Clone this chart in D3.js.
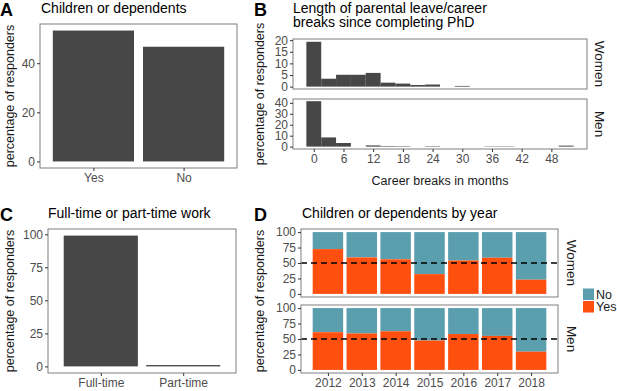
<!DOCTYPE html>
<html>
<head>
<meta charset="utf-8">
<script src="https://cdn.jsdelivr.net/npm/d3@7"></script>
<style>
  body { margin: 0; background: #fff; }
  svg { font-family: "Liberation Sans", Arial, sans-serif; }
  .tick text { fill: #4d4d4d; font-size: 12px; }
  .tick line { stroke: #333; }
  .axis-title { fill: #1a1a1a; font-size: 12.5px; }
  .panel-title { fill: #000; font-size: 14px; }
  .panel-letter { fill: #000; font-size: 18px; font-weight: bold; }
  .strip { fill: #1a1a1a; font-size: 13.5px; }
</style>
</head>
<body>
<div id="chart"></div>
<script>
// Data
var childCats = ["Yes", "No"];
var childPct = [53.3, 46.7];

var workCats = ["Full-time", "Part-time"];
var workPct = [99.0, 1.0];

var breakMonths = [0, 3, 6, 9, 12, 15, 18, 21, 24, 27, 30, 33, 36, 39, 42, 45, 48, 51];
var womenBreaks = [19.3, 3.4, 5.1, 5.1, 5.9, 1.7, 1.3, 0.7, 0.9, 0, 0.3, 0, 0, 0, 0, 0, 0, 0];
var menBreaks   = [41.5, 8.4, 3.3, 0, 1.1, 0.5, 0.4, 0, 0.4, 0, 0, 0, 0.3, 0.3, 0, 0, 0, 0.9];
var monthTicks = [0, 6, 12, 18, 24, 30, 36, 42, 48];

var years = [2012, 2013, 2014, 2015, 2016, 2017, 2018];
var womenYes = [72.5, 59, 56, 32, 54, 58.5, 23];
var menYes   = [61, 59, 62.5, 47.5, 58, 55, 29.5];

var colYes = "#ff4f0f", colNo = "#5b9faf", barGrey = "#474747", frame = "#7f7f7f";

var width = 617, height = 391;
var svg = d3.select("#chart").append("svg")
    .attr("width", width)
    .attr("height", height);

// helpers
function frameBox(x0, x1, y0, y1) {
  svg.append("rect")
    .attr("x", x0).attr("y", y0)
    .attr("width", x1 - x0).attr("height", y1 - y0)
    .attr("fill", "none")
    .attr("stroke", frame)
    .attr("stroke-width", 1);
}

function leftAxis(y, ticks, x0, fs) {
  var g = svg.append("g")
    .attr("transform", "translate(" + x0 + ",0)")
    .call(d3.axisLeft(y).tickValues(ticks).tickSize(3).tickPadding(2));
  g.select(".domain").remove();
  g.selectAll(".tick text").attr("fill", "#4d4d4d").attr("font-size", (fs || 12) + "px");
  return g;
}

function bottomAxis(x, ticks, y0, fmt) {
  var ax = d3.axisBottom(x).tickSize(3).tickPadding(2);
  if (ticks) ax.tickValues(ticks);
  if (fmt) ax.tickFormat(fmt);
  var g = svg.append("g")
    .attr("transform", "translate(0," + y0 + ")")
    .call(ax);
  g.select(".domain").remove();
  g.selectAll(".tick text").attr("fill", "#4d4d4d").attr("font-size", "12px");
  return g;
}

function yTitle(cx, cy, txt) {
  svg.append("text")
    .attr("class", "axis-title")
    .attr("transform", "translate(" + cx + "," + cy + ") rotate(-90)")
    .attr("text-anchor", "middle")
    .text(txt);
}

function stripLabel(cx, cy, txt) {
  svg.append("text")
    .attr("class", "strip")
    .attr("transform", "translate(" + cx + "," + cy + ") rotate(90)")
    .attr("text-anchor", "middle")
    .attr("dy", "0.35em")
    .text(txt);
}

function heading(letterX, titleX, baseY, lines) {
  svg.append("text").attr("class", "panel-letter")
    .attr("x", letterX).attr("y", baseY + 3).text(lines.letter);
  lines.text.forEach(function(t, i) {
    svg.append("text").attr("class", "panel-title")
      .attr("x", titleX).attr("y", baseY + i * 14).text(t);
  });
}

// ---------- Panel A ----------
// ggplot discrete axis: 0.6 units expansion each side, bar width 0.9
var aX = d3.scalePoint().domain(childCats).range([40 + 0.6 * 89, 237 - 0.6 * 89]);
var aStep = aX.step();
var aY = d3.scaleLinear().domain([-2.665, 55.965]).range([168, 24]);

heading(0, 41, 13, {letter: "A", text: ["Children or dependents"]});
svg.selectAll(".barA").data(childPct).enter().append("rect")
  .attr("class", "barA")
  .attr("x", function(d, i) { return aX(childCats[i]) - 0.45 * aStep; })
  .attr("width", 0.9 * aStep)
  .attr("y", function(d) { return aY(d); })
  .attr("height", function(d) { return aY(0) - aY(d); })
  .attr("fill", barGrey);
frameBox(40, 237, 24, 168);
leftAxis(aY, [0, 20, 40], 40);
bottomAxis(aX, null, 168);
yTitle(14, 96, "percentage of responders");

// ---------- Panel B ----------
var bX = d3.scaleLinear().domain([-4.2, 55.2]).range([293, 587]);
var bYw = d3.scaleLinear().domain([-0.05 * 20.5, 20.5]).range([89, 39]);
var bYm = d3.scaleLinear().domain([-0.05 * 43.5, 43.5]).range([149, 99]);

heading(254, 293, 13, {letter: "B", text: ["Length of parental leave/career", "breaks since completing PhD"]});

function histogram(vals, y) {
  svg.append("g").selectAll("rect").data(vals).enter().append("rect")
    .attr("x", function(d, i) { return bX(breakMonths[i] - 1.5); })
    .attr("width", function(d, i) { return bX(breakMonths[i] + 1.5) - bX(breakMonths[i] - 1.5); })
    .attr("y", function(d) { return y(d); })
    .attr("height", function(d) { return y(0) - y(d); })
    .attr("fill", barGrey);
}
histogram(womenBreaks, bYw);
histogram(menBreaks, bYm);
frameBox(293, 587, 39, 89);
frameBox(293, 587, 99, 149);
leftAxis(bYw, [0, 5, 10, 15, 20], 293, 10);
leftAxis(bYm, [0, 10, 20, 30, 40], 293, 10);
bottomAxis(bX, monthTicks, 149);
stripLabel(600, 64, "Women");
stripLabel(600, 124, "Men");
yTitle(264, 94, "percentage of responders");
svg.append("text").attr("class", "axis-title")
  .attr("x", 440).attr("y", 185)
  .attr("text-anchor", "middle")
  .text("Career breaks in months");

// ---------- Panel C ----------
var cX = d3.scalePoint().domain(workCats).range([48 + 0.6 * 88, 236 - 0.6 * 88]);
var cStep = cX.step();
var cY = d3.scaleLinear().domain([-5, 104]).range([373, 229]);

heading(0, 48, 218, {letter: "C", text: ["Full-time or part-time work"]});
svg.selectAll(".barC").data(workPct).enter().append("rect")
  .attr("class", "barC")
  .attr("x", function(d, i) { return cX(workCats[i]) - 0.45 * cStep; })
  .attr("width", 0.9 * cStep)
  .attr("y", function(d) { return cY(d); })
  .attr("height", function(d) { return cY(0) - cY(d); })
  .attr("fill", barGrey);
frameBox(48, 236, 229, 373);
leftAxis(cY, [0, 25, 50, 75, 100], 48);
bottomAxis(cX, null, 373);
yTitle(14, 301, "percentage of responders");

// ---------- Panel D ----------
var dX = d3.scaleLinear().domain([2011.205, 2018.795]).range([301, 558]);
var dYw = d3.scaleLinear().domain([-5, 105]).range([297, 229]);
var dYm = d3.scaleLinear().domain([-5, 105]).range([373, 305]);

heading(254, 302, 218, {letter: "D", text: ["Children or dependents by year"]});

function stacked(yesVals, y) {
  var g = svg.append("g");
  g.selectAll(".no").data(yesVals).enter().append("rect")
    .attr("x", function(d, i) { return dX(years[i] - 0.45); })
    .attr("width", dX(2012.45) - dX(2011.55))
    .attr("y", y(100))
    .attr("height", function(d) { return y(d) - y(100); })
    .attr("fill", colNo);
  g.selectAll(".yes").data(yesVals).enter().append("rect")
    .attr("x", function(d, i) { return dX(years[i] - 0.45); })
    .attr("width", dX(2012.45) - dX(2011.55))
    .attr("y", function(d) { return y(d); })
    .attr("height", function(d) { return y(0) - y(d); })
    .attr("fill", colYes);
  g.append("line")
    .attr("x1", 301).attr("x2", 558)
    .attr("y1", y(50)).attr("y2", y(50))
    .attr("stroke", "#000")
    .attr("stroke-width", 1.5)
    .attr("stroke-dasharray", "6,4");
}
stacked(womenYes, dYw);
stacked(menYes, dYm);
frameBox(301, 558, 229, 297);
frameBox(301, 558, 305, 373);
leftAxis(dYw, [0, 25, 50, 75, 100], 301, 11.5);
leftAxis(dYm, [0, 25, 50, 75, 100], 301, 11.5);
bottomAxis(dX, years, 373, d3.format("d"));
stripLabel(572, 263, "Women");
stripLabel(572, 339, "Men");
yTitle(264, 301, "percentage of responders");

// legend
var legendItems = [["No", colNo], ["Yes", colYes]];
legendItems.forEach(function(it, i) {
  svg.append("rect")
    .attr("x", 583).attr("y", 288.5 + i * 12.5)
    .attr("width", 11).attr("height", 11.5)
    .attr("fill", it[1]);
  svg.append("text")
    .attr("x", 596).attr("y", 298.5 + i * 12.5)
    .attr("font-size", "12.5px")
    .attr("fill", "#1a1a1a")
    .text(it[0]);
});

svg.selectAll(".tick line").attr("stroke", "#333");
</script>
</body>
</html>
